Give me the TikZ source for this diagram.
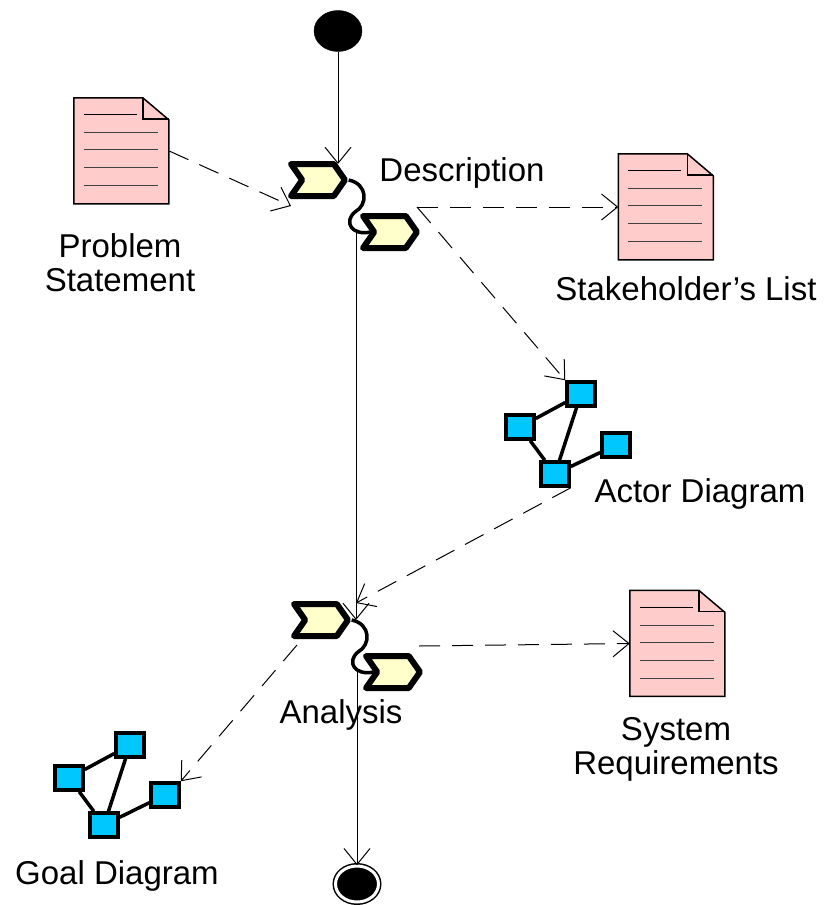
\documentclass[tikz,border=0pt]{standalone}
\usepackage{fontspec}
\setmainfont{Liberation Sans}
\usetikzlibrary{shapes.geometric,shapes.symbols,arrows.meta,positioning}
\definecolor{notepink}{HTML}{FFCCCC}
\definecolor{stepyellow}{HTML}{FFFFCC}
\definecolor{boxblue}{HTML}{00C8FF}

\begin{document}
\begin{tikzpicture}[x=1pt, y=-1pt, >={Straight Barb[length=16pt,width=26pt]},
	initial/.style={ellipse, fill=black, draw, minimum width=48pt, minimum height=41pt, inner sep=0pt},
	final/.style={ellipse, fill=black, draw, double=white, double distance=3pt, line width=1.5pt, minimum width=43pt, minimum height=36pt, inner sep=0pt},
	chevron/.style={signal, signal to=east, signal from=west, signal pointer angle=110, draw, line width=6pt, line join=round, fill=stepyellow, minimum width=54pt, minimum height=32pt, inner sep=0pt},
	notepage/.style={rectangle, minimum width=95pt, minimum height=106pt, inner sep=0pt},
	bluebox/.style={rectangle, draw, line width=3.5pt, fill=boxblue, minimum width=28pt, minimum height=24pt, inner sep=0pt},
	caption/.style={align=center, font=\fontsize{33}{34}\selectfont},
	flow/.style={->, line width=1pt},
	trace/.style={->, line width=1pt, dash pattern=on 21pt off 12pt},
	link/.style={line width=3.5pt}]
	\useasboundingbox (0,0) rectangle (825,905);
	
	\node[initial] (start)                   at (338,31)  {};
	\node[chevron] (descin)                  at (318,180) {};
	\node[chevron] (descout)                 at (390,232) {};
	\node[chevron] (anain)                   at (321,620) {};
	\node[chevron] (anaout)                  at (393,672) {};
	\node[final]   (stop)                    at (357,884) {};
	
	\node[notepage] (problem)                at (121.5,151) {};
	\node[notepage] (stakeholders)           at (666,207)   {};
	\node[notepage] (requirements)           at (677.5,643.5) {};
	
	% page outline, fold and text lines
	\foreach \page in {problem,stakeholders,requirements}{
		\begin{scope}[shift={(\page.north west)}]
			\draw[line width=1.5pt, fill=notepink] (0,0) -- (69,0) -- (95,22) -- (95,106) -- (0,106) -- cycle;
			\draw[line width=1.5pt] (69,0) -- (69,21) -- (95,21);
			\draw[line width=1pt] (10,17) -- (63,17);
			\foreach \y in {35,52,70,88}
				\draw[line width=1pt, black!75] (10,\y) -- (84,\y);
		\end{scope}
	}
	
	\node[bluebox] (actora) at (581,394) {};
	\node[bluebox] (actorb) at (520,427) {};
	\node[bluebox] (actorc) at (555,474) {};
	\node[bluebox] (actord) at (616,445) {};
	\node[bluebox] (goala)  at (130,745) {};
	\node[bluebox] (goalb)  at (69,778)  {};
	\node[bluebox] (goalc)  at (104,825) {};
	\node[bluebox] (goald)  at (165,795) {};
	
	\node[caption] (problemtext)      at (120,263) {Problem\\Statement};
	\node[caption] (desctext)         at (462,173) {Description};
	\node[caption] (stakeholderstext) at (686,289) {Stakeholder’s List};
	\node[caption] (actortext)        at (700,494) {Actor Diagram};
	\node[caption] (requirementstext) at (676,749) {System\\Requirements};
	\node[caption] (anatext)          at (341,715) {Analysis};
	\node[caption] (goaltext)         at (117,876) {Goal Diagram};
	
	\coordinate (descinfoot)  at (291,206);
	\coordinate (descoutfoot) at (417,207);
	\coordinate (anaintop)    at (356,603);
	\coordinate (anainfoot)   at (297,645);
	\coordinate (anaoutfoot)  at (419,646);
	
	\foreach \a/\b in {actorb/actora,actora/actorc,actorb/actorc,actorc/actord,goalb/goala,goala/goalc,goalb/goalc,goalc/goald}
		\draw[link] (\a) -- (\b);
	
	\draw[line width=3.5pt] (descin.east) .. controls (368,184) and (368,205) .. (355,212) .. controls (343,222) and (352,236) .. (descout.west);
	\draw[line width=3.5pt] (anain.east) .. controls (371,624) and (371,645) .. (358,652) .. controls (346,662) and (355,676) .. (anaout.west);
	
	\draw[flow] (start.south) -- ([yshift=-3pt]start.south |- descin.north);
	\draw[flow] (descout.west -| anaintop) -- (anaintop |- anain.east);
	\draw[flow] (anaout.west -| stop.north) -- (stop.north);
	
	\path[trace] (problem.east)        edge (descinfoot);
	\path[trace] (descoutfoot)         edge (stakeholders.west);
	\path[trace] (descoutfoot)         edge (actora.north west);
	\path[trace] (actorc.south east)   edge (anaintop);
	\path[trace] (anaoutfoot)          edge (requirements.west);
	\path[trace] (anainfoot)           edge (goald.north east);
\end{tikzpicture}
\end{document}
